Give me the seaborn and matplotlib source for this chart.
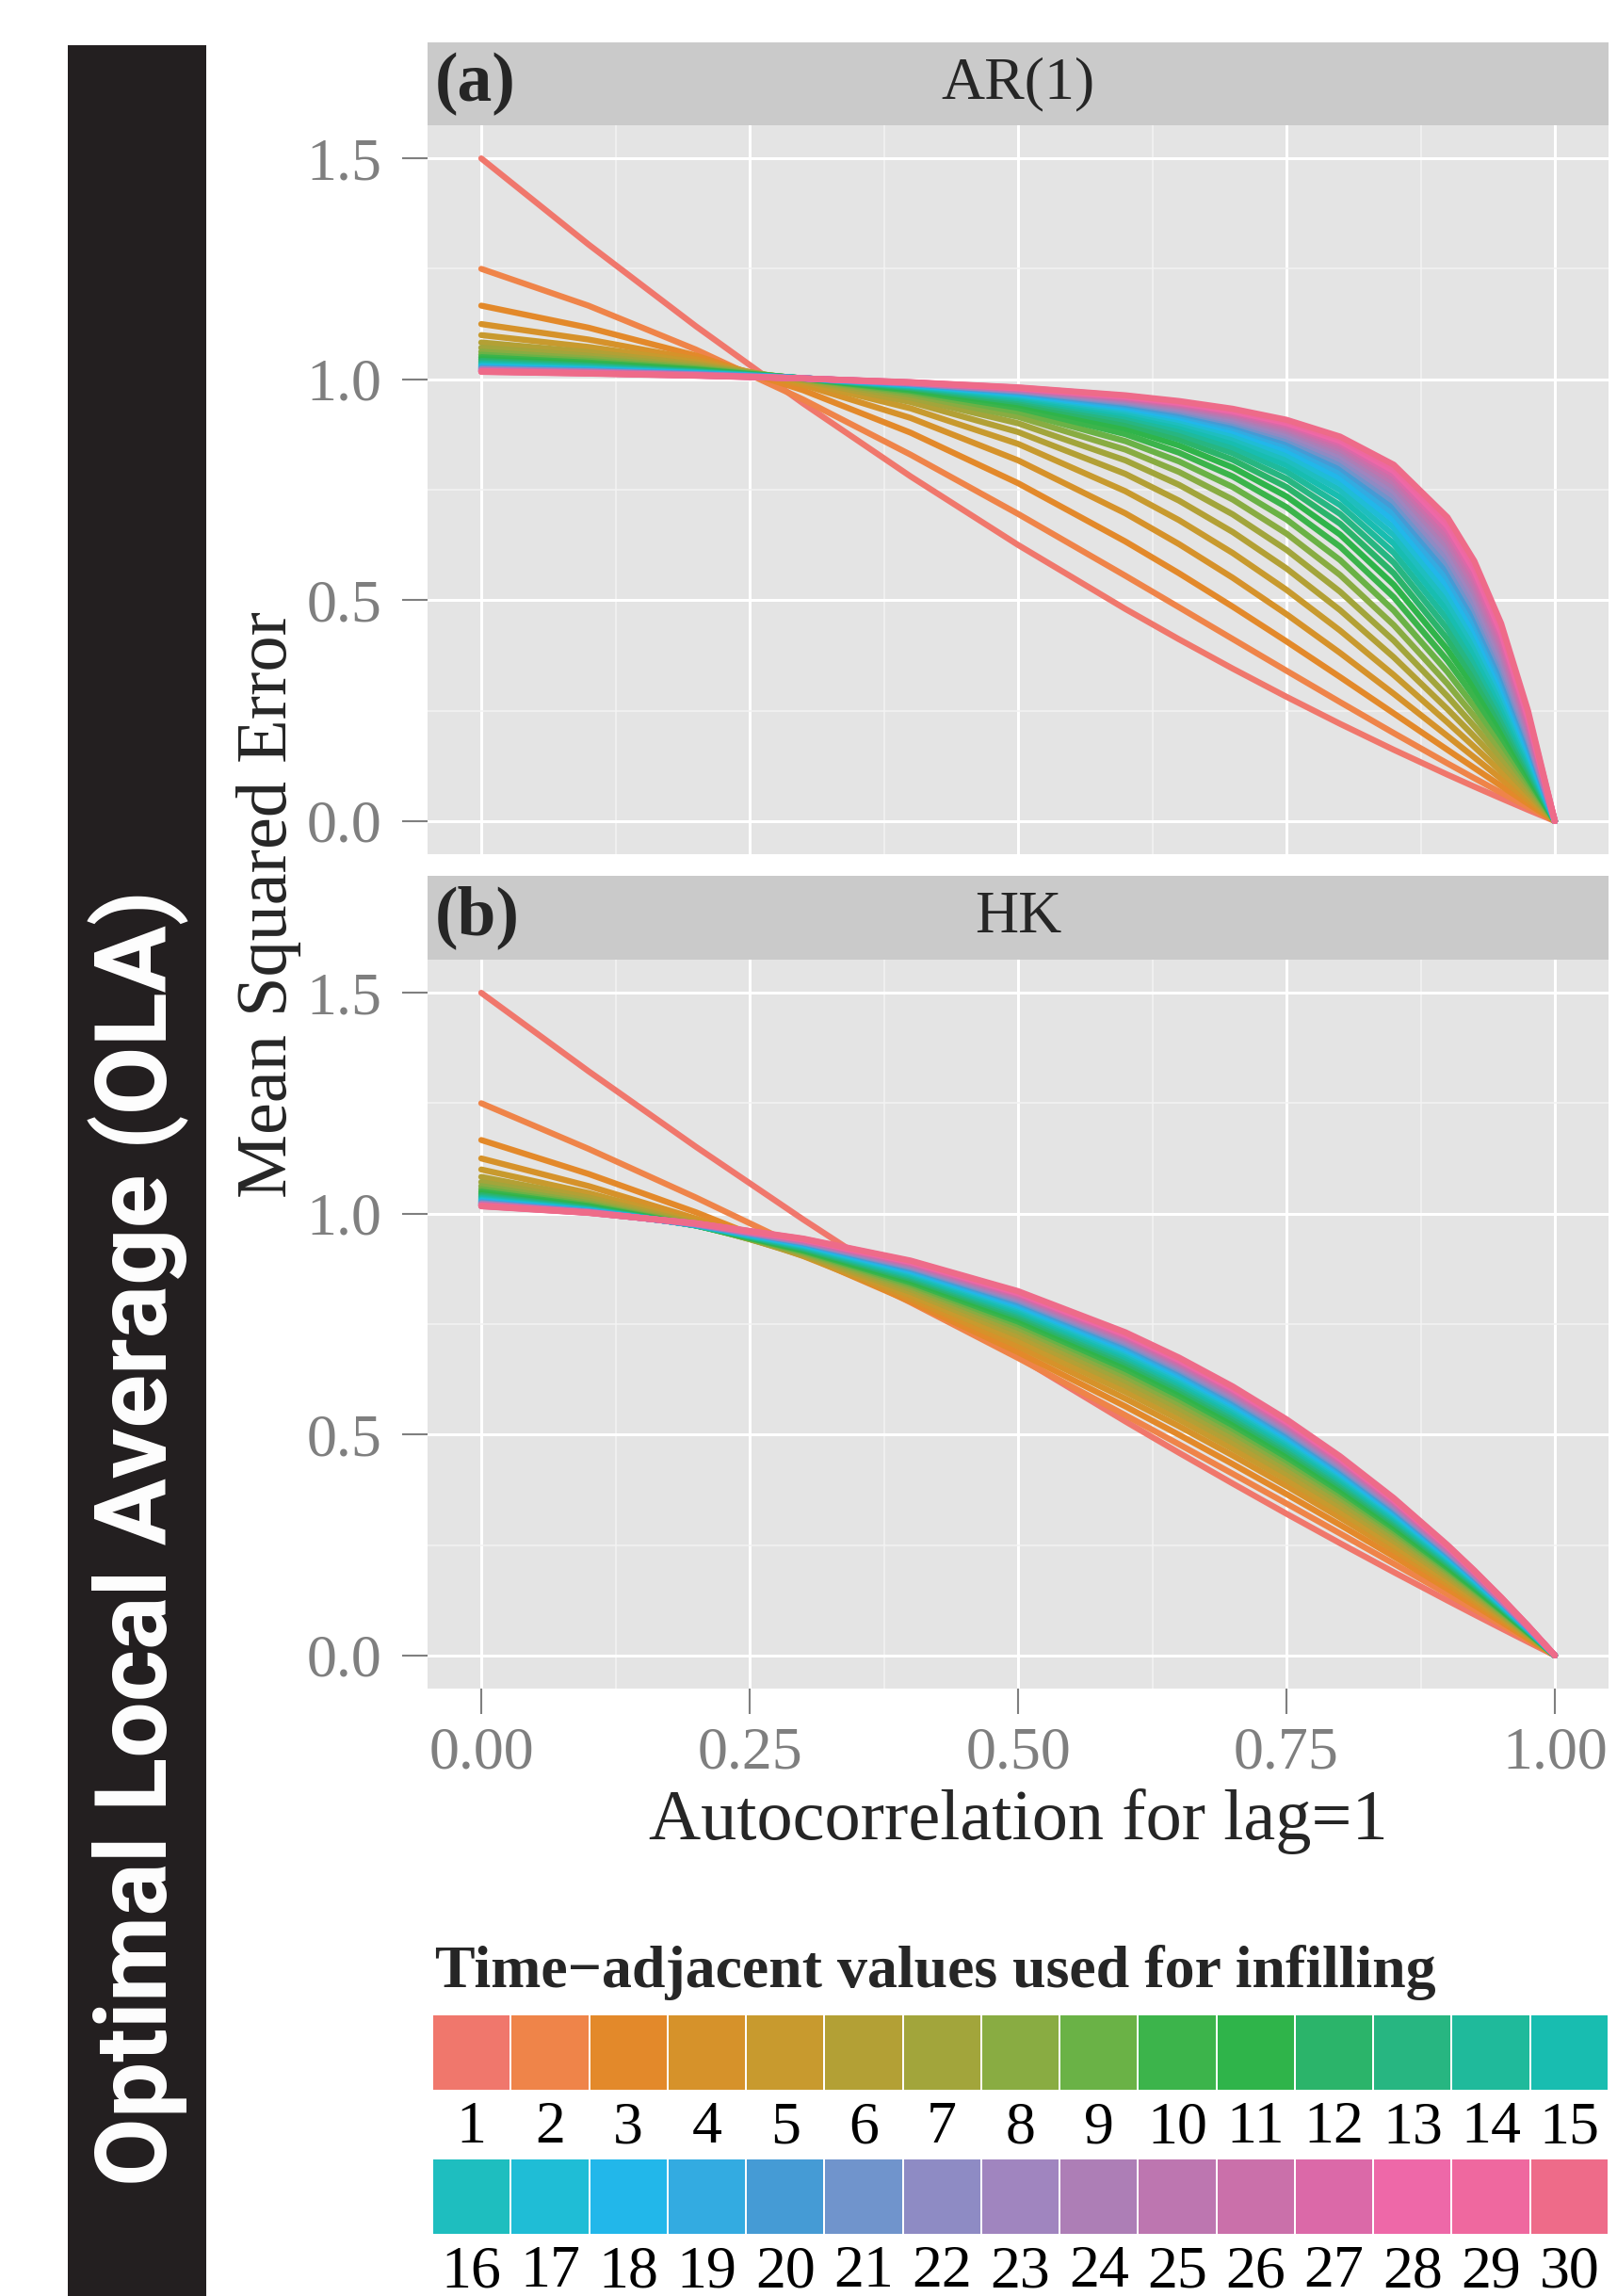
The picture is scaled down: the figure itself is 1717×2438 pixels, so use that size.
import numpy as np
import pandas as pd
import matplotlib
matplotlib.use("Agg")
import matplotlib.pyplot as plt
from matplotlib.colors import ListedColormap
import seaborn as sns

# lag-1 autocorrelation values where the curves were read
rho = [0.0, 0.1, 0.2, 0.3, 0.4, 0.5, 0.6, 0.65, 0.7, 0.75, 0.8, 0.85, 0.9, 0.925, 0.95, 0.975, 1.0]
# number of time-adjacent values used for infilling
n_values = list(range(1, 31))

# mean squared error, one row per rho, one column per n (1..30)
ar1_mse = [
    [1.5, 1.25, 1.1667, 1.125, 1.1, 1.0833, 1.0714, 1.0625, 1.0556, 1.05, 1.0455, 1.0417, 1.0385, 1.0357, 1.0333,
     1.0313, 1.0294, 1.0278, 1.0263, 1.025, 1.0238, 1.0227, 1.0217, 1.0208, 1.02, 1.0192, 1.0185, 1.0179, 1.0172, 1.0167],
    [1.305, 1.1665, 1.1167, 1.0899, 1.0731, 1.0616, 1.0532, 1.0468, 1.0418, 1.0377, 1.0344, 1.0316, 1.0292, 1.0272, 1.0254,
     1.0239, 1.0225, 1.0212, 1.0201, 1.0192, 1.0183, 1.0174, 1.0167, 1.016, 1.0154, 1.0148, 1.0142, 1.0137, 1.0133, 1.0128],
    [1.12, 1.0672, 1.0536, 1.0451, 1.0388, 1.0339, 1.03, 1.0269, 1.0243, 1.0222, 1.0204, 1.0189, 1.0176, 1.0164, 1.0154,
     1.0145, 1.0137, 1.013, 1.0124, 1.0118, 1.0113, 1.0108, 1.0103, 1.0099, 1.0096, 1.0092, 1.0089, 1.0086, 1.0083, 1.008],
    [0.945, 0.954, 0.975, 0.9873, 0.9939, 0.9976, 0.9996, 1.0008, 1.0015, 1.0019, 1.0022, 1.0023, 1.0024, 1.0024, 1.0025,
     1.0024, 1.0024, 1.0024, 1.0023, 1.0023, 1.0022, 1.0022, 1.0021, 1.0021, 1.002, 1.002, 1.0019, 1.0019, 1.0018, 1.0018],
    [0.78, 0.8292, 0.879, 0.9124, 0.9341, 0.9485, 0.9584, 0.9654, 0.9706, 0.9745, 0.9775, 0.9799, 0.9819, 0.9836, 0.9849,
     0.9861, 0.9871, 0.988, 0.9888, 0.9894, 0.99, 0.9906, 0.9911, 0.9915, 0.9919, 0.9923, 0.9926, 0.9929, 0.9932, 0.9935],
    [0.625, 0.6953, 0.7648, 0.8165, 0.8538, 0.8806, 0.9004, 0.9151, 0.9264, 0.9352, 0.9422, 0.948, 0.9527, 0.9566, 0.96,
     0.9629, 0.9654, 0.9676, 0.9695, 0.9713, 0.9728, 0.9742, 0.9754, 0.9766, 0.9776, 0.9786, 0.9794, 0.9802, 0.981, 0.9817],
    [0.48, 0.5552, 0.6328, 0.6965, 0.7466, 0.7858, 0.8164, 0.8407, 0.86, 0.8757, 0.8884, 0.899, 0.9079, 0.9154, 0.9218,
     0.9273, 0.9321, 0.9364, 0.9401, 0.9435, 0.9464, 0.9491, 0.9516, 0.9538, 0.9558, 0.9577, 0.9594, 0.9609, 0.9624, 0.9638],
    [0.4113, 0.4838, 0.5608, 0.6268, 0.681, 0.7252, 0.761, 0.7901, 0.814, 0.8337, 0.8501, 0.8639, 0.8755, 0.8854, 0.894,
     0.9014, 0.9079, 0.9136, 0.9187, 0.9232, 0.9273, 0.9309, 0.9342, 0.9372, 0.94, 0.9425, 0.9448, 0.947, 0.9489, 0.9508],
    [0.345, 0.412, 0.4852, 0.5506, 0.6067, 0.6542, 0.6941, 0.7277, 0.756, 0.78, 0.8003, 0.8177, 0.8327, 0.8456, 0.8568,
     0.8667, 0.8753, 0.883, 0.8898, 0.8959, 0.9014, 0.9063, 0.9108, 0.9149, 0.9186, 0.922, 0.9252, 0.9281, 0.9308, 0.9333],
    [0.2813, 0.3403, 0.4067, 0.4683, 0.5234, 0.5718, 0.614, 0.6508, 0.6828, 0.7106, 0.7349, 0.7561, 0.7747, 0.7911, 0.8055,
     0.8183, 0.8297, 0.8399, 0.849, 0.8572, 0.8646, 0.8714, 0.8775, 0.8831, 0.8882, 0.8929, 0.8972, 0.9012, 0.9049, 0.9084],
    [0.22, 0.2692, 0.3259, 0.3805, 0.4311, 0.4773, 0.5191, 0.5568, 0.5907, 0.6211, 0.6484, 0.673, 0.695, 0.7149, 0.7328,
     0.7489, 0.7635, 0.7768, 0.7888, 0.7997, 0.8097, 0.8189, 0.8272, 0.8349, 0.842, 0.8486, 0.8546, 0.8603, 0.8655, 0.8703],
    [0.1613, 0.1991, 0.2437, 0.288, 0.3305, 0.3707, 0.4084, 0.4435, 0.4763, 0.5066, 0.5347, 0.5608, 0.5849, 0.6072, 0.6278,
     0.6468, 0.6644, 0.6808, 0.6959, 0.7099, 0.723, 0.7351, 0.7463, 0.7568, 0.7665, 0.7756, 0.7842, 0.7921, 0.7996, 0.8066],
    [0.105, 0.1305, 0.1612, 0.1924, 0.2232, 0.2533, 0.2824, 0.3104, 0.3374, 0.3632, 0.388, 0.4116, 0.4342, 0.4558, 0.4763,
     0.4958, 0.5144, 0.5321, 0.5489, 0.5649, 0.5801, 0.5946, 0.6083, 0.6214, 0.6339, 0.6457, 0.657, 0.6677, 0.6779, 0.6876],
    [0.0778, 0.097, 0.1201, 0.144, 0.1678, 0.1913, 0.2144, 0.237, 0.259, 0.2804, 0.3013, 0.3215, 0.3412, 0.3602, 0.3786,
     0.3964, 0.4135, 0.4301, 0.4462, 0.4616, 0.4765, 0.4909, 0.5048, 0.5182, 0.531, 0.5434, 0.5554, 0.5669, 0.578, 0.5887],
    [0.0513, 0.064, 0.0794, 0.0955, 0.1117, 0.1279, 0.1439, 0.1598, 0.1755, 0.191, 0.2063, 0.2214, 0.2362, 0.2507, 0.265,
     0.279, 0.2928, 0.3062, 0.3195, 0.3324, 0.3451, 0.3575, 0.3696, 0.3815, 0.3931, 0.4044, 0.4155, 0.4264, 0.437, 0.4473],
    [0.0253, 0.0316, 0.0393, 0.0474, 0.0556, 0.0638, 0.072, 0.0802, 0.0884, 0.0966, 0.1047, 0.1128, 0.1209, 0.1289, 0.1369,
     0.1448, 0.1527, 0.1605, 0.1683, 0.1761, 0.1838, 0.1914, 0.199, 0.2065, 0.2139, 0.2213, 0.2286, 0.2359, 0.243, 0.2501],
    [0.0, 0.0, 0.0, 0.0, 0.0, 0.0, 0.0, 0.0, 0.0, 0.0, 0.0, 0.0, 0.0, 0.0, 0.0,
     0.0, 0.0, 0.0, 0.0, 0.0, 0.0, 0.0, 0.0, 0.0, 0.0, 0.0, 0.0, 0.0, 0.0, 0.0],
]

hk_mse = [
    [1.5, 1.25, 1.1667, 1.125, 1.1, 1.0833, 1.0714, 1.0625, 1.0556, 1.05, 1.0455, 1.0417, 1.0385, 1.0357, 1.0333,
     1.0313, 1.0294, 1.0278, 1.0263, 1.025, 1.0238, 1.0227, 1.0217, 1.0208, 1.02, 1.0192, 1.0185, 1.0179, 1.0172, 1.0167],
    [1.3223, 1.1466, 1.0899, 1.0625, 1.0467, 1.0364, 1.0293, 1.0242, 1.0203, 1.0173, 1.0149, 1.0129, 1.0113, 1.0099, 1.0088,
     1.0078, 1.007, 1.0062, 1.0056, 1.005, 1.0045, 1.0041, 1.0037, 1.0033, 1.003, 1.0027, 1.0025, 1.0022, 1.002, 1.0018],
    [1.1513, 1.0365, 1.0031, 0.9889, 0.9817, 0.9779, 0.9756, 0.9743, 0.9736, 0.9733, 0.9732, 0.9732, 0.9733, 0.9735, 0.9739,
     0.9742, 0.9745, 0.9748, 0.9751, 0.9754, 0.9757, 0.976, 0.9763, 0.9766, 0.9769, 0.9772, 0.9775, 0.9778, 0.9781, 0.9784],
    [0.9867, 0.9203, 0.9066, 0.9039, 0.9046, 0.9064, 0.909, 0.9114, 0.9139, 0.9163, 0.9184, 0.9204, 0.9223, 0.9243, 0.9262,
     0.9277, 0.9293, 0.9308, 0.9322, 0.9335, 0.9347, 0.9359, 0.937, 0.938, 0.939, 0.94, 0.9409, 0.9418, 0.9427, 0.9436],
    [0.8284, 0.7991, 0.8009, 0.8076, 0.815, 0.8227, 0.8292, 0.8349, 0.8398, 0.8443, 0.8487, 0.8527, 0.8564, 0.8598, 0.8631,
     0.8659, 0.8687, 0.8714, 0.8738, 0.8762, 0.8783, 0.8803, 0.8823, 0.8841, 0.8859, 0.8876, 0.8892, 0.8908, 0.8923, 0.8938],
    [0.6761, 0.6733, 0.6865, 0.7001, 0.7124, 0.7238, 0.7334, 0.7418, 0.7491, 0.7557, 0.7618, 0.7674, 0.7725, 0.7773, 0.7817,
     0.7859, 0.7898, 0.7934, 0.7969, 0.8002, 0.8031, 0.806, 0.8086, 0.8112, 0.8137, 0.8161, 0.8183, 0.8205, 0.8227, 0.8247],
    [0.5297, 0.5438, 0.5637, 0.5814, 0.5966, 0.6103, 0.6218, 0.6318, 0.6406, 0.6485, 0.6558, 0.6625, 0.6687, 0.6744, 0.6797,
     0.6846, 0.6893, 0.6937, 0.6979, 0.7018, 0.7054, 0.7088, 0.7121, 0.7152, 0.7182, 0.7211, 0.7239, 0.7265, 0.7291, 0.7316],
    [0.4587, 0.4779, 0.4994, 0.5188, 0.5338, 0.5479, 0.5598, 0.5701, 0.5793, 0.5874, 0.595, 0.602, 0.6084, 0.6143, 0.6199,
     0.625, 0.6299, 0.6345, 0.6388, 0.6429, 0.6467, 0.6503, 0.6537, 0.657, 0.6602, 0.6632, 0.6661, 0.669, 0.6717, 0.6743],
    [0.3891, 0.4112, 0.4332, 0.4526, 0.4676, 0.4816, 0.4935, 0.5038, 0.5129, 0.521, 0.5287, 0.5357, 0.5422, 0.5481, 0.5537,
     0.5589, 0.5638, 0.5684, 0.5728, 0.5769, 0.5808, 0.5844, 0.588, 0.5913, 0.5946, 0.5977, 0.6007, 0.6035, 0.6063, 0.609],
    [0.3208, 0.3439, 0.3652, 0.3837, 0.398, 0.4114, 0.4228, 0.4327, 0.4413, 0.4491, 0.4565, 0.4633, 0.4696, 0.4754, 0.4808,
     0.4858, 0.4905, 0.495, 0.4992, 0.5032, 0.507, 0.5106, 0.5141, 0.5174, 0.5205, 0.5236, 0.5265, 0.5293, 0.5321, 0.5347],
    [0.254, 0.276, 0.2954, 0.3121, 0.3251, 0.3373, 0.3476, 0.3566, 0.3644, 0.3715, 0.3783, 0.3846, 0.3903, 0.3957, 0.4006,
     0.4053, 0.4096, 0.4137, 0.4176, 0.4213, 0.4248, 0.4282, 0.4315, 0.4346, 0.4375, 0.4404, 0.4431, 0.4458, 0.4483, 0.4508],
    [0.1885, 0.2076, 0.224, 0.238, 0.2488, 0.2591, 0.2678, 0.2754, 0.282, 0.288, 0.2939, 0.2992, 0.3042, 0.3087, 0.313,
     0.317, 0.3207, 0.3242, 0.3275, 0.3307, 0.3338, 0.3367, 0.3395, 0.3422, 0.3448, 0.3473, 0.3496, 0.3519, 0.3542, 0.3563],
    [0.1243, 0.1388, 0.1508, 0.1612, 0.1692, 0.1769, 0.1834, 0.189, 0.194, 0.1984, 0.2028, 0.2069, 0.2106, 0.214, 0.2172,
     0.2202, 0.223, 0.2257, 0.2282, 0.2306, 0.233, 0.2352, 0.2374, 0.2394, 0.2414, 0.2433, 0.2451, 0.2469, 0.2486, 0.2502],
    [0.0927, 0.1042, 0.1137, 0.1218, 0.1281, 0.1342, 0.1393, 0.1438, 0.1477, 0.1512, 0.1547, 0.158, 0.1609, 0.1637, 0.1662,
     0.1686, 0.1709, 0.173, 0.175, 0.1769, 0.1788, 0.1806, 0.1823, 0.184, 0.1855, 0.1871, 0.1885, 0.1899, 0.1913, 0.1926],
    [0.0615, 0.0695, 0.0762, 0.0819, 0.0863, 0.0905, 0.0941, 0.0972, 0.0999, 0.1024, 0.1049, 0.1072, 0.1093, 0.1112, 0.113,
     0.1147, 0.1163, 0.1178, 0.1193, 0.1206, 0.1219, 0.1232, 0.1245, 0.1256, 0.1268, 0.1278, 0.1289, 0.1299, 0.1309, 0.1318],
    [0.0306, 0.0348, 0.0383, 0.0412, 0.0435, 0.0457, 0.0476, 0.0493, 0.0507, 0.052, 0.0533, 0.0546, 0.0557, 0.0567, 0.0577,
     0.0586, 0.0594, 0.0602, 0.061, 0.0617, 0.0624, 0.0631, 0.0637, 0.0644, 0.0649, 0.0655, 0.0661, 0.0666, 0.0671, 0.0676],
    [0.0, 0.0, 0.0, 0.0, 0.0, 0.0, 0.0, 0.0, 0.0, 0.0, 0.0, 0.0, 0.0, 0.0, 0.0,
     0.0, 0.0, 0.0, 0.0, 0.0, 0.0, 0.0, 0.0, 0.0, 0.0, 0.0, 0.0, 0.0, 0.0, 0.0],
]

panel_names = ["AR(1)", "HK"]
panel_tags = ["(a)", "(b)"]
x_ticks = [0.0, 0.25, 0.5, 0.75, 1.0]
x_tick_labels = ["0.00", "0.25", "0.50", "0.75", "1.00"]
y_ticks = [0.0, 0.5, 1.0, 1.5]
y_tick_labels = ["0.0", "0.5", "1.0", "1.5"]

# hue scale as printed in the figure (one colour per n)
n_colors = [
    "#F0776C", "#EF8449", "#E3892A", "#D6922A", "#C89A2E", "#B3A035", "#A2A53B", "#89AC42", "#6AB246", "#3CB44B",
    "#2FB44A", "#2BB46A", "#27B681", "#1FBA9B", "#18BDB0", "#1EBEBF", "#1FBDD6", "#22B7EA", "#33ABE1", "#459BD5",
    "#7094CC", "#8E8BC4", "#A085BF", "#AD7EB6", "#BD76B0", "#CA70AA", "#DB69A8", "#EE68A8", "#EF689F", "#EE6B89",
]

W, H = 1717, 2438
GREY = "#7F7F7F"


def box(x0, y0, x1, y1):
    # pixel box (top-left origin) -> figure fraction rect
    return [x0 / W, 1 - y1 / H, (x1 - x0) / W, (y1 - y0) / H]


def to_long(table, name):
    df = pd.DataFrame(table, index=rho, columns=n_values)
    df = df.rename_axis(index="rho", columns="n").stack().rename("mse").reset_index()
    df["panel"] = name
    return df


data = pd.concat([to_long(ar1_mse, panel_names[0]), to_long(hk_mse, panel_names[1])])
palette = dict(zip(n_values, n_colors))

sns.set_style("darkgrid")
plt.rcParams["font.family"] = ["Liberation Serif", "DejaVu Serif"]

fig = plt.figure(figsize=(W / 200, H / 200), dpi=200)

panel_boxes = [box(454, 133, 1708, 907), box(454, 1019, 1708, 1793)]
strip_boxes = [box(454, 45, 1708, 133), box(454, 930, 1708, 1019)]

for i, name in enumerate(panel_names):
    ax = fig.add_axes(panel_boxes[i])
    sub = data[data["panel"] == name]
    sns.lineplot(data=sub, x="rho", y="mse", hue="n", hue_order=n_values, palette=palette,
                 estimator=None, legend=False, lw=2.3, ax=ax)
    ax.set(xlabel="", ylabel="")
    ax.set_facecolor("#E4E4E4")
    ax.set_xlim(-0.05, 1.05)
    ax.set_ylim(-0.075, 1.575)
    ax.set_xticks(x_ticks)
    ax.set_xticks([0.125, 0.375, 0.625, 0.875], minor=True)
    ax.set_yticks(y_ticks)
    ax.set_yticks([0.25, 0.75, 1.25], minor=True)
    ax.set_yticklabels(y_tick_labels)
    ax.grid(which="major", color="white", lw=1.1)
    ax.grid(which="minor", color="#F3F3F3", lw=0.55)
    ax.set_axisbelow(True)
    for s in ax.spines.values():
        s.set_visible(False)
    ax.tick_params(which="minor", length=0)
    ax.tick_params(axis="y", which="major", length=9.7, width=0.75, color=GREY, pad=7.9,
                   labelsize=23, labelcolor=GREY, left=True)
    if i == 1:
        ax.set_xticklabels(x_tick_labels)
        ax.tick_params(axis="x", which="major", length=9.7, width=0.75, color=GREY, pad=5,
                       labelsize=23, labelcolor=GREY, bottom=True)
    else:
        ax.tick_params(axis="x", which="major", length=0, labelbottom=False)

    sax = fig.add_axes(strip_boxes[i])
    sax.set_facecolor("#CACACA")
    sax.set_xticks([])
    sax.set_yticks([])
    sax.grid(False)
    for s in sax.spines.values():
        s.set_visible(False)
    sax.text(0.5, 0.5, name, ha="center", va="center", fontsize=23, transform=sax.transAxes)
    sax.text(8 / 1254, 0.5, panel_tags[i], ha="left", va="center", fontsize=26.5,
             fontweight="bold", transform=sax.transAxes)

fig.text(285 / W, 1 - 960 / H, "Mean Squared Error", rotation=90, ha="center", va="center", fontsize=27.5)
fig.text(1081 / W, 1 - 1934 / H, "Autocorrelation for lag=1", ha="center", va="center", fontsize=27.5)

# dark side bar with the method name
bar = fig.add_axes(box(72, 48, 219, 2438))
bar.set_facecolor("#231F20")
bar.set_xticks([])
bar.set_yticks([])
bar.grid(False)
for s in bar.spines.values():
    s.set_visible(False)
fig.text(147 / W, 1 - 1633 / H, "Optimal Local Average (OLA)", rotation=90, ha="center", va="center",
         color="white", fontsize=38, fontweight="bold", family=["Roboto", "DejaVu Sans"])

# legend: colour keys in two rows of 15
fig.text(462 / W, 1 - 2110 / H, "Time\u2212adjacent values used for infilling", ha="left", va="baseline",
         fontsize=23, fontweight="bold")
legend_boxes = [box(459, 2139, 1708, 2220), box(459, 2292, 1708, 2373)]
for row, lb in enumerate(legend_boxes):
    keys = n_values[row * 15:(row + 1) * 15]
    lax = fig.add_axes(lb)
    sns.heatmap(np.array([keys]), cmap=ListedColormap([palette[k] for k in keys]), cbar=False,
                linewidths=0.7, linecolor="white", xticklabels=[str(k) for k in keys],
                yticklabels=False, ax=lax)
    lax.tick_params(axis="x", length=0, pad=4, labelsize=23, labelcolor="black", labelrotation=0)

fig.savefig("out.png", dpi=200)
